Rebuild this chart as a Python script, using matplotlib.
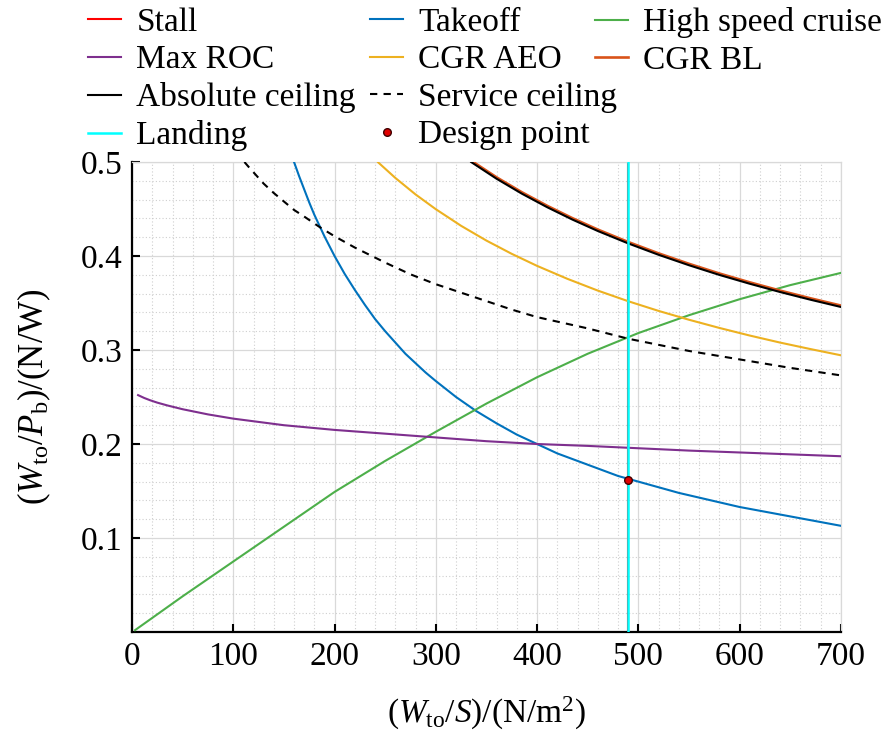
import matplotlib
matplotlib.use("Agg")
import matplotlib.pyplot as plt
from matplotlib.ticker import MultipleLocator

plt.rcParams['font.family'] = ['Liberation Serif', 'DejaVu Serif']
plt.rcParams['mathtext.fontset'] = 'custom'
plt.rcParams['mathtext.rm'] = 'Liberation Serif'
plt.rcParams['mathtext.it'] = 'Liberation Serif:italic'

# ---- data (W/S in N/m^2, W/P in N/W) ----
takeoff_ws = [160, 165, 170, 175, 180, 190, 200, 210, 220, 230, 240, 250, 260, 270, 280,
              290, 300, 320, 340, 360, 380, 400, 420, 440, 460, 480, 500, 520, 540, 560,
              580, 600, 620, 640, 660, 680, 700]
takeoff_wp = [0.500, 0.485, 0.471, 0.457, 0.444, 0.421, 0.400, 0.381, 0.364, 0.348, 0.333,
              0.320, 0.308, 0.296, 0.286, 0.276, 0.267, 0.250, 0.235, 0.222, 0.210, 0.200,
              0.190, 0.182, 0.174, 0.166, 0.160, 0.154, 0.148, 0.143, 0.138, 0.133, 0.129,
              0.125, 0.121, 0.117, 0.113]

cruise_ws = [3, 50, 100, 150, 200, 250, 300, 350, 400, 450, 500, 550, 600, 650, 700]
cruise_wp = [0.002, 0.038, 0.075, 0.112, 0.149, 0.182, 0.213, 0.243, 0.271, 0.296,
             0.318, 0.337, 0.354, 0.369, 0.382]

roc_ws = [6, 12, 18, 25, 35, 50, 75, 100, 125, 150, 200, 250, 300, 350, 400, 450, 490,
          550, 600, 650, 700]
roc_wp = [0.252, 0.249, 0.2465, 0.244, 0.241, 0.237, 0.2315, 0.227, 0.2235, 0.220, 0.215,
          0.211, 0.207, 0.203, 0.200, 0.198, 0.196, 0.193, 0.191, 0.189, 0.187]

cgr_aeo_ws = [243, 260, 280, 300, 325, 350, 375, 400, 430, 460, 490, 520, 550, 580, 610,
              640, 670, 700]
cgr_aeo_wp = [0.4997, 0.4831, 0.4655, 0.4498, 0.4321, 0.4164, 0.4023, 0.3895, 0.3757,
              0.3632, 0.3519, 0.3416, 0.3322, 0.3235, 0.3154, 0.3079, 0.3010, 0.2944]

cgr_bl_ws = [335, 360, 385, 410, 435, 460, 490, 520, 550, 580, 610, 640, 670, 700]
cgr_bl_wp = [0.5014, 0.4837, 0.4678, 0.4534, 0.4402, 0.4281, 0.4149, 0.4028, 0.3917,
             0.3814, 0.3720, 0.3632, 0.3550, 0.3473]

abs_ceil_ws = [335, 360, 385, 410, 435, 460, 490, 520, 550, 580, 610, 640, 670, 700]
abs_ceil_wp = [0.4999, 0.4822, 0.4663, 0.4519, 0.4387, 0.4266, 0.4134, 0.4013, 0.3902,
               0.3799, 0.3705, 0.3617, 0.3535, 0.3458]

serv_ceil_ws = [111, 115, 120, 130, 140, 150, 160, 170, 185, 200, 220, 250, 275, 300, 325,
                350, 375, 400, 450, 490, 550, 600, 650, 700]
serv_ceil_wp = [0.500, 0.495, 0.489, 0.477, 0.467, 0.458, 0.449, 0.442, 0.431, 0.421,
                0.409, 0.393, 0.3805, 0.370, 0.361, 0.352, 0.343, 0.335, 0.323, 0.312,
                0.299, 0.290, 0.281, 0.273]

stall_ws = 490
landing_ws = 490
design_ws = [490]
design_wp = [0.162]

x_ticks = [0, 100, 200, 300, 400, 500, 600, 700]
y_ticks = [0.1, 0.2, 0.3, 0.4, 0.5]

# ---- colours ----
c_stall = '#FF0000'
c_takeoff = '#0072BD'
c_cruise = '#4DAF4A'
c_roc = '#7E2F8E'
c_aeo = '#EDB120'
c_bl = '#D95319'
c_land = '#00FFFF'

fig = plt.figure(figsize=(8.86, 7.38), dpi=100)
ax = fig.add_axes([0.149, 0.1436, 0.800, 0.6369])

lw = 1.5
h_stall = ax.axvline(stall_ws, color=c_stall, lw=lw, zorder=2)
h_takeoff, = ax.plot(takeoff_ws, takeoff_wp, color=c_takeoff, lw=lw, zorder=3)
h_cruise, = ax.plot(cruise_ws, cruise_wp, color=c_cruise, lw=lw, zorder=3)
h_roc, = ax.plot(roc_ws, roc_wp, color=c_roc, lw=lw, zorder=3)
h_aeo, = ax.plot(cgr_aeo_ws, cgr_aeo_wp, color=c_aeo, lw=lw, zorder=3)
h_bl, = ax.plot(cgr_bl_ws, cgr_bl_wp, color=c_bl, lw=lw + 0.4, zorder=3)
h_abs, = ax.plot(abs_ceil_ws, abs_ceil_wp, color='black', lw=lw, zorder=4)
h_serv, = ax.plot(serv_ceil_ws, serv_ceil_wp, color='black', lw=lw, ls=(0, (3.5, 3)), zorder=4)
h_land = ax.axvline(landing_ws, color=c_land, lw=lw + 0.3, zorder=5)
h_dp, = ax.plot(design_ws, design_wp, 'o', color='#E00000', mec='#400000', mew=1.0, ms=5.5,
                zorder=6, ls='none')

ax.set_xlim(0, 700)
ax.set_ylim(0, 0.5)
ax.set_xticks(x_ticks)
ax.set_yticks(y_ticks)
ax.set_yticklabels([f'{v:.1f}' for v in y_ticks])
ax.xaxis.set_minor_locator(MultipleLocator(20))
ax.yaxis.set_minor_locator(MultipleLocator(0.02))
ax.grid(True, which='major', color='#d9d9d9', lw=0.9, ls='-', zorder=0)
ax.grid(True, which='minor', color='#cfcfcf', lw=0.8, ls=(0, (1, 2)), zorder=0)
ax.set_axisbelow(True)

for s in ['left', 'bottom']:
    ax.spines[s].set_color('black')
    ax.spines[s].set_linewidth(1.6)
for s in ['top', 'right']:
    ax.spines[s].set_color('#d9d9d9')
    ax.spines[s].set_linewidth(0.9)

ax.tick_params(axis='both', which='major', direction='in', length=6, width=1.5,
               labelsize=24, pad=7, top=False, right=False, colors='black')
ax.tick_params(axis='both', which='minor', length=0)

ax.set_xlabel(r'$(W_{\mathrm{to}}/S)/(\mathrm{N/m^2})$', fontsize=24, labelpad=16)
ax.set_ylabel(r'$(W_{\mathrm{to}}/P_{\mathrm{b}})/(\mathrm{N/W})$', fontsize=25, labelpad=20)

columns = [
    ([h_stall, h_roc, h_abs, h_land], ['Stall', 'Max ROC', 'Absolute ceiling', 'Landing'], 0.0993),
    ([h_takeoff, h_aeo, h_serv, h_dp], ['Takeoff', 'CGR AEO', 'Service ceiling', 'Design point'], 0.4176),
    ([h_cruise, h_bl], ['High speed cruise', 'CGR BL'], 0.6716),
]
for hs, ls_, xa in columns:
    fig.legend(hs, ls_, ncol=1, loc='upper left', bbox_to_anchor=(xa, 0.990),
               frameon=False, fontsize=24, handlelength=1.0, handletextpad=0.45,
               labelspacing=0.21, borderpad=0.0, borderaxespad=0.0)

fig.savefig('out.png', dpi=100)
